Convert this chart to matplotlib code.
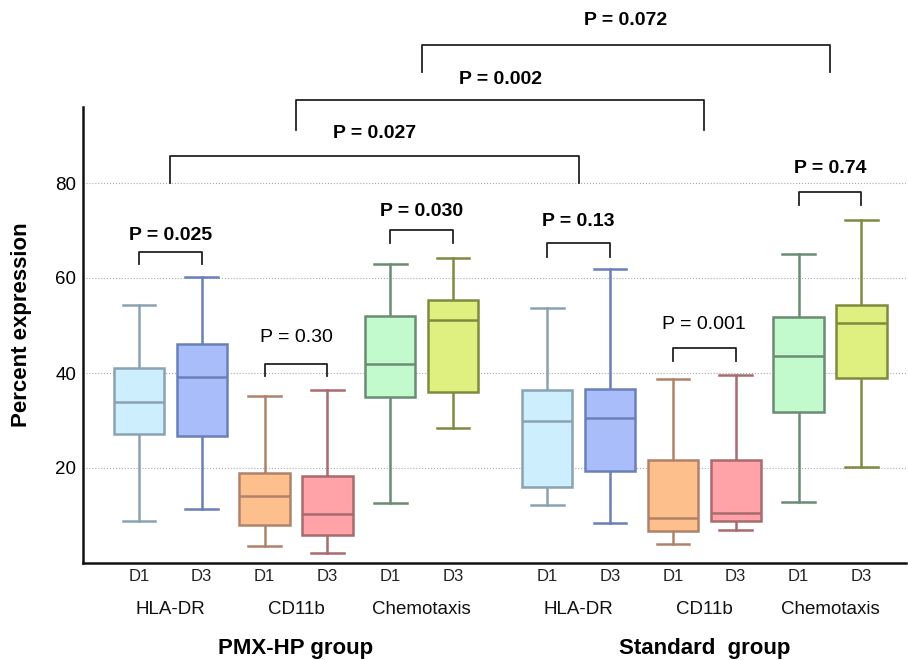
import numpy as np
import matplotlib
matplotlib.use("Agg")
import matplotlib.pyplot as plt
import matplotlib.transforms as mtransforms

plt.rcParams['font.family'] = ['Liberation Sans', 'DejaVu Sans']

# box statistics: whislo, q1, med, q3, whishi
groups = ["PMX-HP group", "Standard  group"]
markers = ["HLA-DR", "CD11b", "Chemotaxis"]
days = ["D1", "D3"]

pmx_stats = [
    [8.8, 27.2, 33.9, 41.0, 54.3],   # HLA-DR D1
    [11.4, 26.7, 39.2, 46.1, 60.2],  # HLA-DR D3
    [3.6, 8.0, 14.1, 18.9, 35.2],    # CD11b D1
    [2.1, 5.9, 10.3, 18.3, 36.4],    # CD11b D3
    [12.6, 35.0, 41.9, 52.0, 63.0],  # Chemotaxis D1
    [28.4, 36.0, 51.2, 55.4, 64.2],  # Chemotaxis D3
]
std_stats = [
    [12.2, 16.0, 29.9, 36.4, 53.7],
    [8.4, 19.4, 30.5, 36.6, 61.9],
    [4.0, 6.7, 9.5, 21.7, 38.7],
    [6.9, 8.8, 10.5, 21.7, 39.6],
    [12.8, 31.8, 43.6, 51.8, 65.0],
    [20.2, 38.9, 50.5, 54.3, 72.2],
]

face_cols = ["#cdeefc", "#a8bdfa", "#fdbf8c", "#ffa3a8", "#c2f9cd", "#e0f080"]
edge_cols = ["#8aa2b2", "#6b7fb8", "#b0826a", "#a86b6e", "#6b8c74", "#7f8a40"]

# pair comparisons: (x left, x right, leg bottom, bracket top, text y, label, bold)
pairs = [
    (0, 1, 63.0, 65.5, 69.0, "P = 0.025", True),
    (2, 3, 39.4, 41.9, 47.4, "P = 0.30", False),
    (4, 5, 67.4, 70.1, 74.0, "P = 0.030", True),
    (6.5, 7.5, 64.4, 67.4, 71.8, "P = 0.13", True),
    (8.5, 9.5, 42.5, 45.3, 50.3, "P = 0.001", False),
    (10.5, 11.5, 75.4, 78.1, 83.0, "P = 0.74", True),
    (0.5, 7.0, 80.0, 85.7, 90.5, "P = 0.027", True),
    (2.5, 9.0, 91.2, 97.5, 101.7, "P = 0.002", True),
    (4.5, 11.0, 103.4, 109.0, 114.3, "P = 0.072", True),
]

positions = [0, 1, 2, 3, 4, 5, 6.5, 7.5, 8.5, 9.5, 10.5, 11.5]

fig = plt.figure(figsize=(9.08, 6.6), dpi=100)
ax = fig.add_axes([83 / 908, 97 / 660, 823 / 908, 456 / 660])

stats = []
for s in pmx_stats + std_stats:
    stats.append(dict(whislo=s[0], q1=s[1], med=s[2], q3=s[3], whishi=s[4], fliers=[]))

bp = ax.bxp(stats, positions=positions, widths=0.8, patch_artist=True,
            showfliers=False, capwidths=0.52)
for i in range(len(stats)):
    fc = face_cols[i % 6]
    ec = edge_cols[i % 6]
    bp['boxes'][i].set(facecolor=fc, edgecolor=ec, linewidth=1.8, zorder=3)
    bp['medians'][i].set(color=ec, linewidth=1.8, zorder=4)
    for w in bp['whiskers'][2 * i:2 * i + 2]:
        w.set(color=ec, linewidth=1.8)
    for c in bp['caps'][2 * i:2 * i + 2]:
        c.set(color=ec, linewidth=1.8)

ax.set_xlim(-0.89, 12.21)
ax.set_ylim(0, 96)
ax.set_yticks([20, 40, 60, 80])
ax.tick_params(axis='y', length=0, labelsize=13.5, pad=5)
ax.yaxis.grid(True, linestyle=':', color='#aaaaaa', linewidth=0.8)
ax.set_axisbelow(True)
ax.set_ylabel("Percent expression", fontsize=16, fontweight='bold')
ax.yaxis.set_label_coords(-0.062, 0.522)

ax.set_xticks(positions)
ax.set_xticklabels(days * 6)
ax.tick_params(axis='x', length=0, labelsize=12, pad=4, labelcolor='#222222')

for sp in ['top', 'right']:
    ax.spines[sp].set_visible(False)
for sp in ['left', 'bottom']:
    ax.spines[sp].set_linewidth(1.8)
    ax.spines[sp].set_color('#111111')

trans = mtransforms.blended_transform_factory(ax.transData, ax.transAxes)
for g in range(2):
    for m in range(3):
        xc = (positions[g * 6 + m * 2] + positions[g * 6 + m * 2 + 1]) / 2
        ax.text(xc, -0.103, markers[m], transform=trans, ha='center', va='center',
                fontsize=13.5, color='#111111')
    xg = (positions[g * 6] + positions[g * 6 + 5]) / 2
    ax.text(xg, -0.188, groups[g], transform=trans, ha='center', va='center',
            fontsize=16, fontweight='bold')

for x1, x2, ylo, ytop, ytxt, lab, bold in pairs:
    ax.plot([x1, x1, x2, x2], [ylo, ytop, ytop, ylo], color='#222222',
            linewidth=1.3, clip_on=False, zorder=5)
    ax.text((x1 + x2) / 2, ytxt, lab, ha='center', va='center', fontsize=14,
            fontweight='bold' if bold else 'normal', clip_on=False, zorder=6,
            bbox=dict(facecolor='white', edgecolor='none', pad=1.5))

fig.savefig("out.png", dpi=100)
